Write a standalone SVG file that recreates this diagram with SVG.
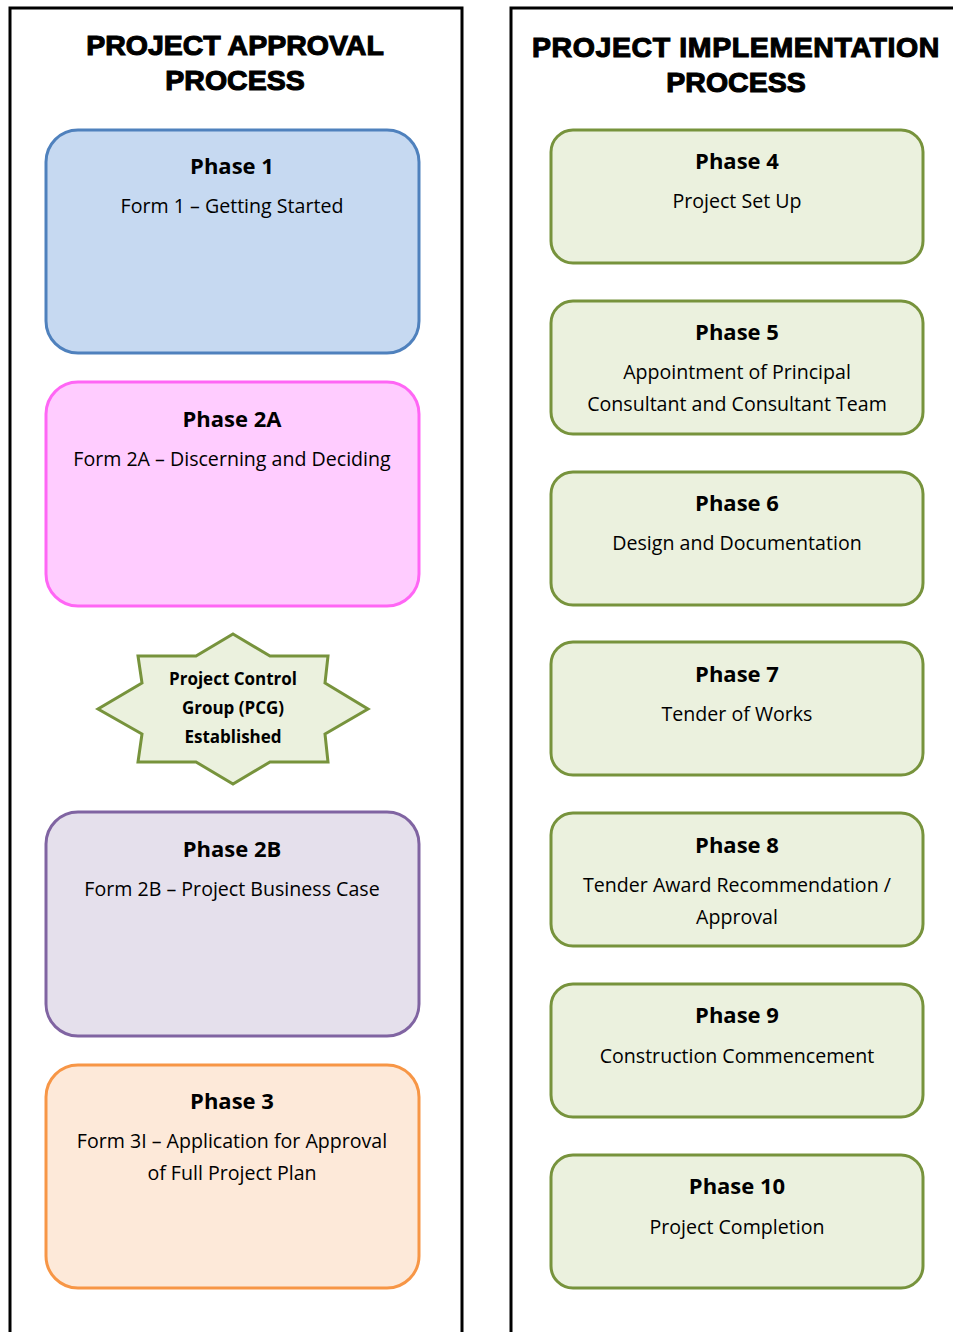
<svg xmlns="http://www.w3.org/2000/svg" width="953" height="1332" viewBox="0 0 953 1332">
<style>
.panel{fill:none;stroke:#000;stroke-width:3}
.hdr{font-family:"Liberation Sans",Arial,sans-serif;font-weight:bold;font-size:28.5px;fill:#000;stroke:#000;stroke-width:1.1;text-anchor:middle}
.box{stroke-width:3}
.t{font-family:"Open Sans","Noto Sans",sans-serif;font-weight:bold;font-size:22px;fill:#000;text-anchor:middle}
.s{font-family:"Open Sans","Noto Sans",sans-serif;font-size:19.6px;fill:#000;text-anchor:middle}
.st{font-family:"Open Sans","Noto Sans",sans-serif;font-weight:bold;font-size:17px;fill:#000;text-anchor:middle}
.blue{fill:#C6D9F1;stroke:#4F81BD}
.pink{fill:#FFCCFF;stroke:#FF66F5}
.purple{fill:#E5E0EC;stroke:#8064A2}
.orange{fill:#FDE9D9;stroke:#F79646}
.green{fill:#EBF1DE;stroke:#77933C}
</style>
<rect width="953" height="1332" fill="#fff"/>
<g id="panels">
<path class="panel" d="M10,1340 V8 H462 V1340"/>
<path class="panel" d="M511,1340 V8 H960"/>
<text class="hdr" x="235" y="55">PROJECT APPROVAL</text>
<text class="hdr" x="235" y="90">PROCESS</text>
<text class="hdr" x="736" y="57" letter-spacing="0.6">PROJECT IMPLEMENTATION</text>
<text class="hdr" x="736" y="92">PROCESS</text>
</g>
<g id="connectors"></g>
<g id="phase1">
<rect class="box blue" x="46" y="130" width="373" height="223" rx="32"/>
<text class="t" x="232" y="174">Phase 1</text>
<text class="s" x="232" y="213">Form 1 – Getting Started</text>
</g>
<g id="phase2a">
<rect class="box pink" x="46" y="382" width="373" height="224" rx="32"/>
<text class="t" x="232" y="427">Phase 2A</text>
<text class="s" x="232" y="466">Form 2A – Discerning and Deciding</text>
</g>
<g id="pcg">
<polygon points="233,634 270,656 328,656 325,683 368,709 325,734 328,762 270,762 233,784 196,762 138,762 142,734 98,709 142,683 138,656 196,656" fill="#EBF1DE" stroke="#77933C" stroke-width="3"/>
<text class="st" x="233" y="685">Project Control</text>
<text class="st" x="233" y="714">Group (PCG)</text>
<text class="st" x="233" y="743">Established</text>
</g>
<g id="phase2b">
<rect class="box purple" x="46" y="812" width="373" height="224" rx="32"/>
<text class="t" x="232" y="857">Phase 2B</text>
<text class="s" x="232" y="896">Form 2B – Project Business Case</text>
</g>
<g id="phase3">
<rect class="box orange" x="46" y="1065" width="373" height="223" rx="32"/>
<text class="t" x="232" y="1109">Phase 3</text>
<text class="s" x="232" y="1148">Form 3I – Application for Approval</text>
<text class="s" x="232" y="1180">of Full Project Plan</text>
</g>
<g id="phase4">
<rect class="box green" x="551" y="130" width="372" height="133" rx="22"/>
<text class="t" x="737" y="169">Phase 4</text>
<text class="s" x="737" y="208">Project Set Up</text>
</g>
<g id="phase5">
<rect class="box green" x="551" y="301" width="372" height="133" rx="22"/>
<text class="t" x="737" y="340">Phase 5</text>
<text class="s" x="737" y="379">Appointment of Principal</text>
<text class="s" x="737" y="411">Consultant and Consultant Team</text>
</g>
<g id="phase6">
<rect class="box green" x="551" y="472" width="372" height="133" rx="22"/>
<text class="t" x="737" y="511">Phase 6</text>
<text class="s" x="737" y="550">Design and Documentation</text>
</g>
<g id="phase7">
<rect class="box green" x="551" y="642" width="372" height="133" rx="22"/>
<text class="t" x="737" y="682">Phase 7</text>
<text class="s" x="737" y="721">Tender of Works</text>
</g>
<g id="phase8">
<rect class="box green" x="551" y="813" width="372" height="133" rx="22"/>
<text class="t" x="737" y="853">Phase 8</text>
<text class="s" x="737" y="892">Tender Award Recommendation /</text>
<text class="s" x="737" y="924">Approval</text>
</g>
<g id="phase9">
<rect class="box green" x="551" y="984" width="372" height="133" rx="22"/>
<text class="t" x="737" y="1023">Phase 9</text>
<text class="s" x="737" y="1063">Construction Commencement</text>
</g>
<g id="phase10">
<rect class="box green" x="551" y="1155" width="372" height="133" rx="22"/>
<text class="t" x="737" y="1194">Phase 10</text>
<text class="s" x="737" y="1234">Project Completion</text>
</g>
</svg>
